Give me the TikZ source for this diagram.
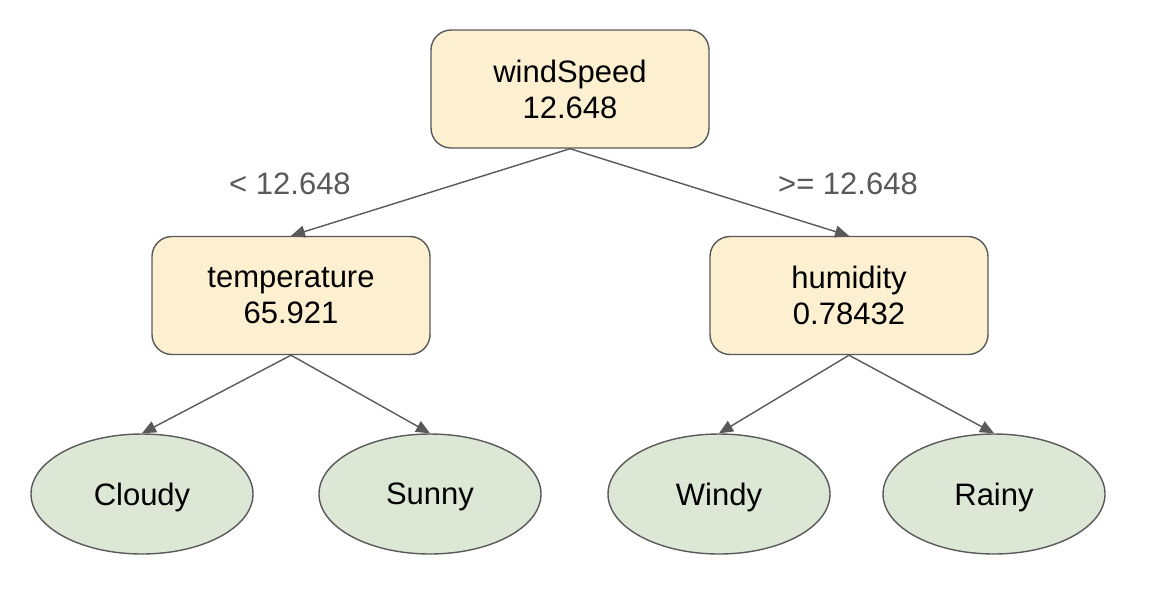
\documentclass[tikz,border=0pt]{standalone}
\usepackage{fontspec}
\setmainfont{Liberation Sans}
\usetikzlibrary{shapes,arrows.meta}
\definecolor{splitfill}{HTML}{FCF0D0}
\definecolor{leaffill}{HTML}{DCE7D5}
\definecolor{edgegray}{HTML}{595959}
\begin{document}
\begin{tikzpicture}[x=0.5pt,y=-0.5pt]
        \tikzstyle{split}=[rectangle,rounded corners=10pt,draw=edgegray,line width=0.7pt,fill=splitfill,minimum width=139pt,minimum height=59pt,align=center,font=\fontsize{15.5}{18}\selectfont]
        \tikzstyle{leaf}=[ellipse,draw=edgegray,line width=0.7pt,fill=leaffill,minimum width=111pt,minimum height=60pt,inner sep=0pt,text depth=0pt,font=\fontsize{15.5}{18}\selectfont]
        \tikzstyle{cond}=[text=edgegray,font=\fontsize{15.5}{18}\selectfont]
        \tikzstyle{branch}=[draw=edgegray,line width=0.7pt,-{Triangle[length=7pt,width=6pt]}]
        \useasboundingbox (0,0) rectangle (1152,612);
        \node[split] (wind) at (570,89) {windSpeed\\12.648};
        \node[split] (temp) at (291,295.5) {temperature\\65.921};
        \node[split] (hum) at (849,295.5) {humidity\\0.78432};
        \node[leaf] (cloudy) at (142,494) {Cloudy};
        \node[leaf] (sunny) at (430,494) {Sunny};
        \node[leaf] (windy) at (719,494) {Windy};
        \node[leaf] (rainy) at (994,494) {Rainy};
        \node[cond] (lt) at (290,184) {< 12.648};
        \node[cond] (ge) at (848,184) {>= 12.648};
        \draw[branch] (wind.south) -- (temp.north);
        \draw[branch] (wind.south) -- (hum.north);
        \draw[branch] (temp.south) -- (cloudy.north);
        \draw[branch] (temp.south) -- (sunny.north);
        \draw[branch] (hum.south) -- (windy.north);
        \draw[branch] (hum.south) -- (rainy.north);
    \end{tikzpicture}
\end{document}
